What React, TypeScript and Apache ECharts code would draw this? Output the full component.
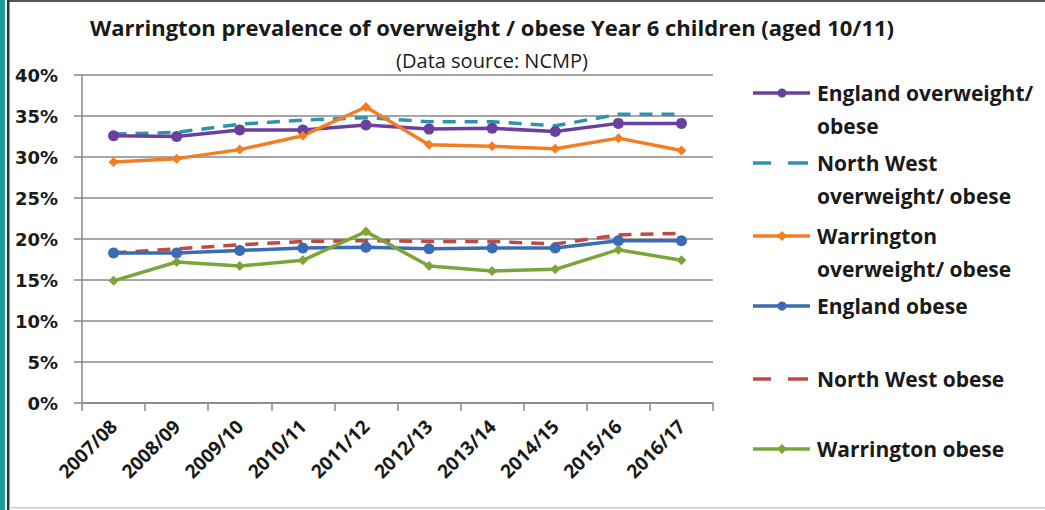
import React, { useEffect, useRef } from "react";
import * as echarts from "echarts";

const categories = ["2007/08", "2008/09", "2009/10", "2010/11", "2011/12", "2012/13", "2013/14", "2014/15", "2015/16", "2016/17"];
const englandOverweight = [32.6, 32.5, 33.3, 33.3, 33.9, 33.4, 33.5, 33.1, 34.1, 34.1];
const northWestOverweight = [32.8, 33.0, 34.0, 34.5, 34.8, 34.3, 34.3, 33.8, 35.2, 35.2];
const warringtonOverweight = [29.4, 29.8, 30.9, 32.6, 36.1, 31.5, 31.3, 31.0, 32.3, 30.8];
const englandObese = [18.3, 18.3, 18.6, 18.9, 19.0, 18.8, 18.9, 18.9, 19.8, 19.8];
const northWestObese = [18.3, 18.8, 19.3, 19.7, 19.8, 19.7, 19.7, 19.4, 20.5, 20.7];
const warringtonObese = [14.9, 17.2, 16.7, 17.4, 20.9, 16.7, 16.1, 16.3, 18.7, 17.4];

const seriesNames = [
  "England overweight/ obese",
  "North West overweight/ obese",
  "Warrington overweight/ obese",
  "England obese",
  "North West obese",
  "Warrington obese",
];
const legendLabels = [
  "England overweight/\nobese",
  "North West\noverweight/ obese",
  "Warrington\noverweight/ obese",
  "England obese",
  "North West obese",
  "Warrington obese",
];
const seriesData = [englandOverweight, northWestOverweight, warringtonOverweight, englandObese, northWestObese, warringtonObese];
const colors = ["#6A3F9E", "#2C93B3", "#F27D22", "#3A6BB3", "#BE4A45", "#7BA43A"];
const kinds = ["circle", "dash", "diamond", "circle", "dash", "diamond"];

const TITLE = "Warrington prevalence of overweight / obese Year 6 children (aged 10/11)";
const SUBTITLE = "(Data source: NCMP)";

const FONT = "'Open Sans', Lato, sans-serif";
const WIDE = "'DejaVu Sans', 'Open Sans', sans-serif";

export default function App() {
  const ref = useRef<HTMLDivElement>(null);
  useEffect(() => {
    if (!ref.current) return;
    const chart = echarts.init(ref.current, null, { renderer: "svg" });

    const legendY = [93, 163, 236, 306, 379, 449];
    const legendGraphics: any[] = [];
    legendLabels.forEach((label, i) => {
      const y = legendY[i];
      const c = colors[i];
      if (kinds[i] === "dash") {
        legendGraphics.push({ type: "line", shape: { x1: 753, y1: y, x2: 771, y2: y }, style: { stroke: c, lineWidth: 3.5 } });
        legendGraphics.push({ type: "line", shape: { x1: 788, y1: y, x2: 808, y2: y }, style: { stroke: c, lineWidth: 3.5 } });
      } else {
        legendGraphics.push({ type: "line", shape: { x1: 753, y1: y, x2: 810, y2: y }, style: { stroke: c, lineWidth: 3.5 } });
        if (kinds[i] === "circle") {
          legendGraphics.push({ type: "circle", shape: { cx: 782, cy: y, r: 4.5 }, style: { fill: c } });
        } else {
          legendGraphics.push({ type: "polygon", shape: { points: [[782, y - 5], [787, y], [782, y + 5], [777, y]] }, style: { fill: c } });
        }
      }
      legendGraphics.push({
        type: "text",
        x: 817,
        y: y - 17,
        style: { text: label, font: `bold 21px ${FONT}`, fill: "#1a1a1a", lineHeight: 33, textVerticalAlign: "top" },
      });
    });

    chart.setOption({
      animation: false,
      backgroundColor: "#ffffff",
      title: [
        { text: TITLE, left: 487, top: 11, textAlign: "center", textStyle: { fontFamily: FONT, fontWeight: "bold", fontSize: 22, color: "#1a1a1a" } },
        { text: SUBTITLE, left: 487, top: 45, textAlign: "center", textStyle: { fontFamily: FONT, fontWeight: "normal", fontSize: 20, color: "#1a1a1a" } },
      ],
      grid: { left: 82, right: 332, top: 75, bottom: 107, containLabel: false },
      xAxis: {
        type: "category",
        data: categories,
        boundaryGap: true,
        axisLine: { lineStyle: { color: "#888888", width: 1.5 } },
        axisTick: { show: true, length: 8, lineStyle: { color: "#888888", width: 1.5 } },
        axisLabel: { rotate: 45, margin: 20, fontFamily: FONT, fontWeight: "bold", fontSize: 19, color: "#1a1a1a", interval: 0 },
      },
      yAxis: {
        type: "value",
        min: 0,
        max: 40,
        interval: 5,
        axisLine: { show: true, lineStyle: { color: "#888888", width: 1.5 } },
        axisTick: { show: true, length: 8, lineStyle: { color: "#888888", width: 1.5 } },
        splitLine: { lineStyle: { color: "#888888", width: 1.5 } },
        axisLabel: { formatter: "{value}%", margin: 24, fontFamily: WIDE, fontWeight: "bold", fontSize: 18, color: "#1a1a1a" },
      },
      series: seriesNames.map((name, i) => ({
        name,
        type: "line",
        data: seriesData[i],
        symbol: kinds[i] === "dash" ? "none" : kinds[i],
        symbolSize: kinds[i] === "circle" ? 11 : 10,
        showSymbol: kinds[i] !== "dash",
        itemStyle: { color: colors[i] },
        lineStyle: { color: colors[i], width: 3.5, type: kinds[i] === "dash" ? [13, 9] : "solid" },
        z: kinds[i] === "dash" ? 1 : 2,
      })),
      graphic: [
        { type: "rect", shape: { x: 0, y: 0, width: 5, height: 510 }, style: { fill: "#1E9E96" } },
        { type: "rect", shape: { x: 7, y: 0, width: 2.5, height: 510 }, style: { fill: "#333333" } },
        { type: "rect", shape: { x: 9, y: 0, width: 1036, height: 2 }, style: { fill: "#555555" } },
        { type: "rect", shape: { x: 9, y: 507, width: 1036, height: 1.5 }, style: { fill: "#cccccc" } },
        ...legendGraphics,
      ],
    });
    return () => chart.dispose();
  }, []);
  return <div ref={ref} style={{ position: "fixed", left: 0, top: 0, width: 1045, height: 510 }} />;
}
